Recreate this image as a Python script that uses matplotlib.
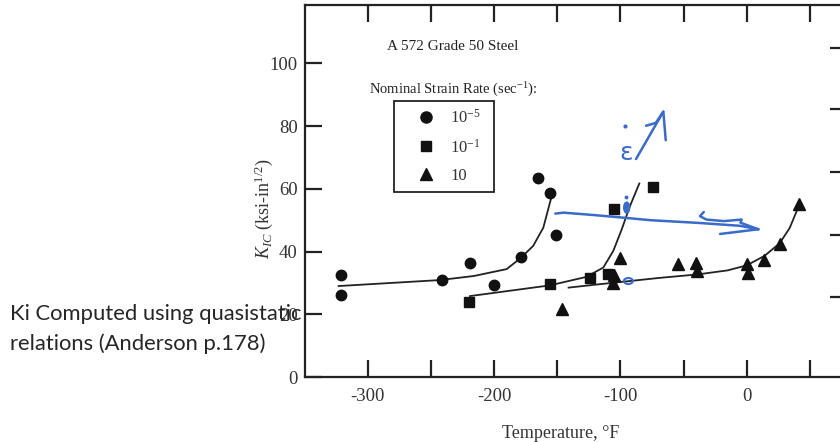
import matplotlib
matplotlib.use("Agg")
import matplotlib.pyplot as plt
from matplotlib.lines import Line2D
from matplotlib.patches import Ellipse, Rectangle

plt.rcParams['font.family'] = ['Liberation Serif', 'DejaVu Serif']
plt.rcParams['mathtext.fontset'] = 'custom'
plt.rcParams['mathtext.rm'] = 'Liberation Serif'
plt.rcParams['mathtext.it'] = 'Liberation Serif:italic'

# ---- data ----
circ_T = [-321, -321, -241, -219, -200, -179, -165, -156, -151]
circ_K = [32.5, 26.2, 30.9, 36.5, 29.2, 38.1, 63.6, 58.8, 45.3]
sq_T = [-220, -156, -124, -110, -105, -74]
sq_K = [23.9, 29.6, 31.5, 32.8, 53.5, 60.7]
tri_T = [-146, -100, -105, -106, -54, -40, -39, 0.5, 1, 14, 26, 41]
tri_K = [21.6, 37.9, 32.4, 30.1, 36.1, 36.5, 33.8, 35.9, 33.0, 37.2, 42.5, 55.3]

# trend curves
circ_fit_T = [-323, -243, -216, -190, -179, -169, -161, -155]
circ_fit_K = [29.0, 30.9, 32.2, 34.4, 37.9, 41.8, 47.6, 56.7]
sq_fit_T = [-219, -156, -127, -113.5, -105.6, -98.9, -92.4, -85]
sq_fit_K = [25.8, 29.2, 31.9, 34.9, 40.2, 47.1, 54.5, 61.7]
tri_fit_T = [-141, -116, -69, -39, -15, 0, 14, 26, 34, 41.5]
tri_fit_K = [28.5, 29.6, 31.6, 32.7, 34.0, 35.6, 38.6, 42.6, 47.5, 54.8]

legend_labels = ['10$^{-5}$', '10$^{-1}$', '10']
x_major = [-300, -200, -100, 0]
x_minor = [-250, -150, -50, 50]
y_major = [0, 20, 40, 60, 80, 100]
right_ticks = [25.5, 45.3, 65.3, 85.5, 105]

W, H = 840, 442
fig = plt.figure(figsize=(W / 100, H / 100), dpi=100)
x0, x1 = 304.5, 847.8
y0, y1 = 377, 5
ax = fig.add_axes([x0 / W, 1 - y0 / H, (x1 - x0) / W, (y0 - y1) / H])
ax.set_xlim(-350, 80)
ax.set_ylim(0, 118.6)


def ax_frac(px, py):
    return (px - x0) / (x1 - x0), (y0 - py) / (y0 - y1)


mk = dict(color='#111111', linestyle='none', zorder=4)
ax.plot(circ_T, circ_K, marker='o', markersize=7.5, **mk)
ax.plot(sq_T, sq_K, marker='s', markersize=7.0, **mk)
ax.plot(tri_T, tri_K, marker='^', markersize=8.0, **mk)

lc = dict(color='#222222', linewidth=1.3, zorder=3)
ax.plot(circ_fit_T, circ_fit_K, **lc)
ax.plot(sq_fit_T, sq_fit_K, **lc)
ax.plot(tri_fit_T, tri_fit_K, **lc)

for s in ax.spines.values():
    s.set_linewidth(1.6)
    s.set_color('#222222')

ax.set_xticks(x_major)
ax.set_xticklabels([str(v) for v in x_major])
ax.set_xticks(x_minor, minor=True)
ax.set_yticks(y_major)
ax.set_yticklabels([str(v) for v in y_major])
ax.tick_params(axis='x', which='both', direction='in', top=True, bottom=True,
               length=12, width=1.6, color='#222222', labelsize=13.5, pad=8)
ax.tick_params(axis='y', which='both', direction='in', left=True, right=False,
               length=12, width=1.6, color='#222222', labelsize=13.5, pad=5)
for lab in ax.get_xticklabels() + ax.get_yticklabels():
    lab.set_color('#333333')

ax2 = ax.twinx()
ax2.set_ylim(ax.get_ylim())
ax2.set_yticks(right_ticks)
ax2.set_yticklabels([])
ax2.tick_params(axis='y', direction='in', length=13, width=1.6, color='#222222')
for s in ax2.spines.values():
    s.set_visible(False)

ax.set_xlabel('Temperature, °F', fontsize=13, color='#333333')
ax.xaxis.set_label_coords(*ax_frac(560.7, 425))
ax.set_ylabel('$K_{IC}$ (ksi-in$^{1/2}$)', fontsize=13, color='#333333')
ax.yaxis.set_label_coords(*ax_frac(275, 209))

ax.text(*ax_frac(453, 47), 'A 572 Grade 50 Steel',
        transform=ax.transAxes, ha='center', va='center', fontsize=11, color='#222222')
ax.text(*ax_frac(453, 90), 'Nominal Strain Rate (sec$^{-1}$):',
        transform=ax.transAxes, ha='center', va='center', fontsize=10.5, color='#222222')

# legend: box + entries
bx0, by0 = ax_frac(394, 192)
bx1, by1 = ax_frac(494, 101)
ax.add_patch(Rectangle((bx0, by0), bx1 - bx0, by1 - by0, transform=ax.transAxes,
                       fill=True, facecolor='white', edgecolor='#222222', linewidth=1.3, zorder=5))
handles = [Line2D([], [], marker=m, markersize=s, color='#111111', linestyle='none')
           for m, s in zip(['o', 's', '^'], [8, 7.5, 8.5])]
leg = ax.legend(handles, legend_labels, loc='upper left',
                bbox_to_anchor=ax_frac(410, 101),
                borderaxespad=0, frameon=False, fontsize=12,
                handlelength=1.0, handletextpad=0.95, labelspacing=0.72,
                borderpad=0.45)
leg.set_zorder(6)
for t in leg.get_texts():
    t.set_color('#333333')

# ---- handwritten blue annotations ----
blue = '#3a6bc8'
hw = dict(color=blue, linewidth=1.8, solid_capstyle='round', zorder=7)
ax.plot([-151.5, -145, -120, -97.7, -76.5, -37, -5.3, 9.2],
        [52.1, 52.4, 51.6, 50.8, 50.0, 49.1, 48.2, 47.1], **hw)
ax.plot([-34, -37, -32, -18, -4, -5, 9.2], [52.6, 51.3, 50.2, 49.7, 50.2, 49.2, 47.1], **hw)
ax.plot([-21.1, 9.2], [45.6, 47.1], **hw)
ax.plot([-87.6, -66.0], [69.5, 84.6], **hw)
ax.plot([-79.7, -72, -66.0, -64.1], [80.1, 81.0, 84.6, 75.5], **hw)
ax.text(-95.8, 71.5, 'ε', color=blue, fontsize=18, ha='center', va='center',
        family='DejaVu Sans', zorder=7)
ax.plot([-96.6], [80.1], marker='o', markersize=2, color=blue, zorder=7)
ax.add_patch(Ellipse((-95, 54), 4.7, 3.5, color=blue, zorder=7))
ax.plot([-95.5], [57.3], marker='o', markersize=1.8, color=blue, zorder=7)
ax.add_patch(Ellipse((-93.7, 30.6), 7.1, 1.9, fill=False, edgecolor=blue, linewidth=1.5, zorder=7))

# ---- slide text on the left ----
fig.text(10 / W, 1 - 319.5 / H, 'Ki Computed using quasistatic', family=['Lato', 'DejaVu Sans'],
         fontsize=15.8, color='#262626', va='baseline', ha='left', zorder=10)
fig.text(10 / W, 1 - 350 / H, 'relations (Anderson p.178)', family=['Lato', 'DejaVu Sans'],
         fontsize=15.8, color='#262626', va='baseline', ha='left', zorder=10)

fig.savefig('out.png', dpi=100)
